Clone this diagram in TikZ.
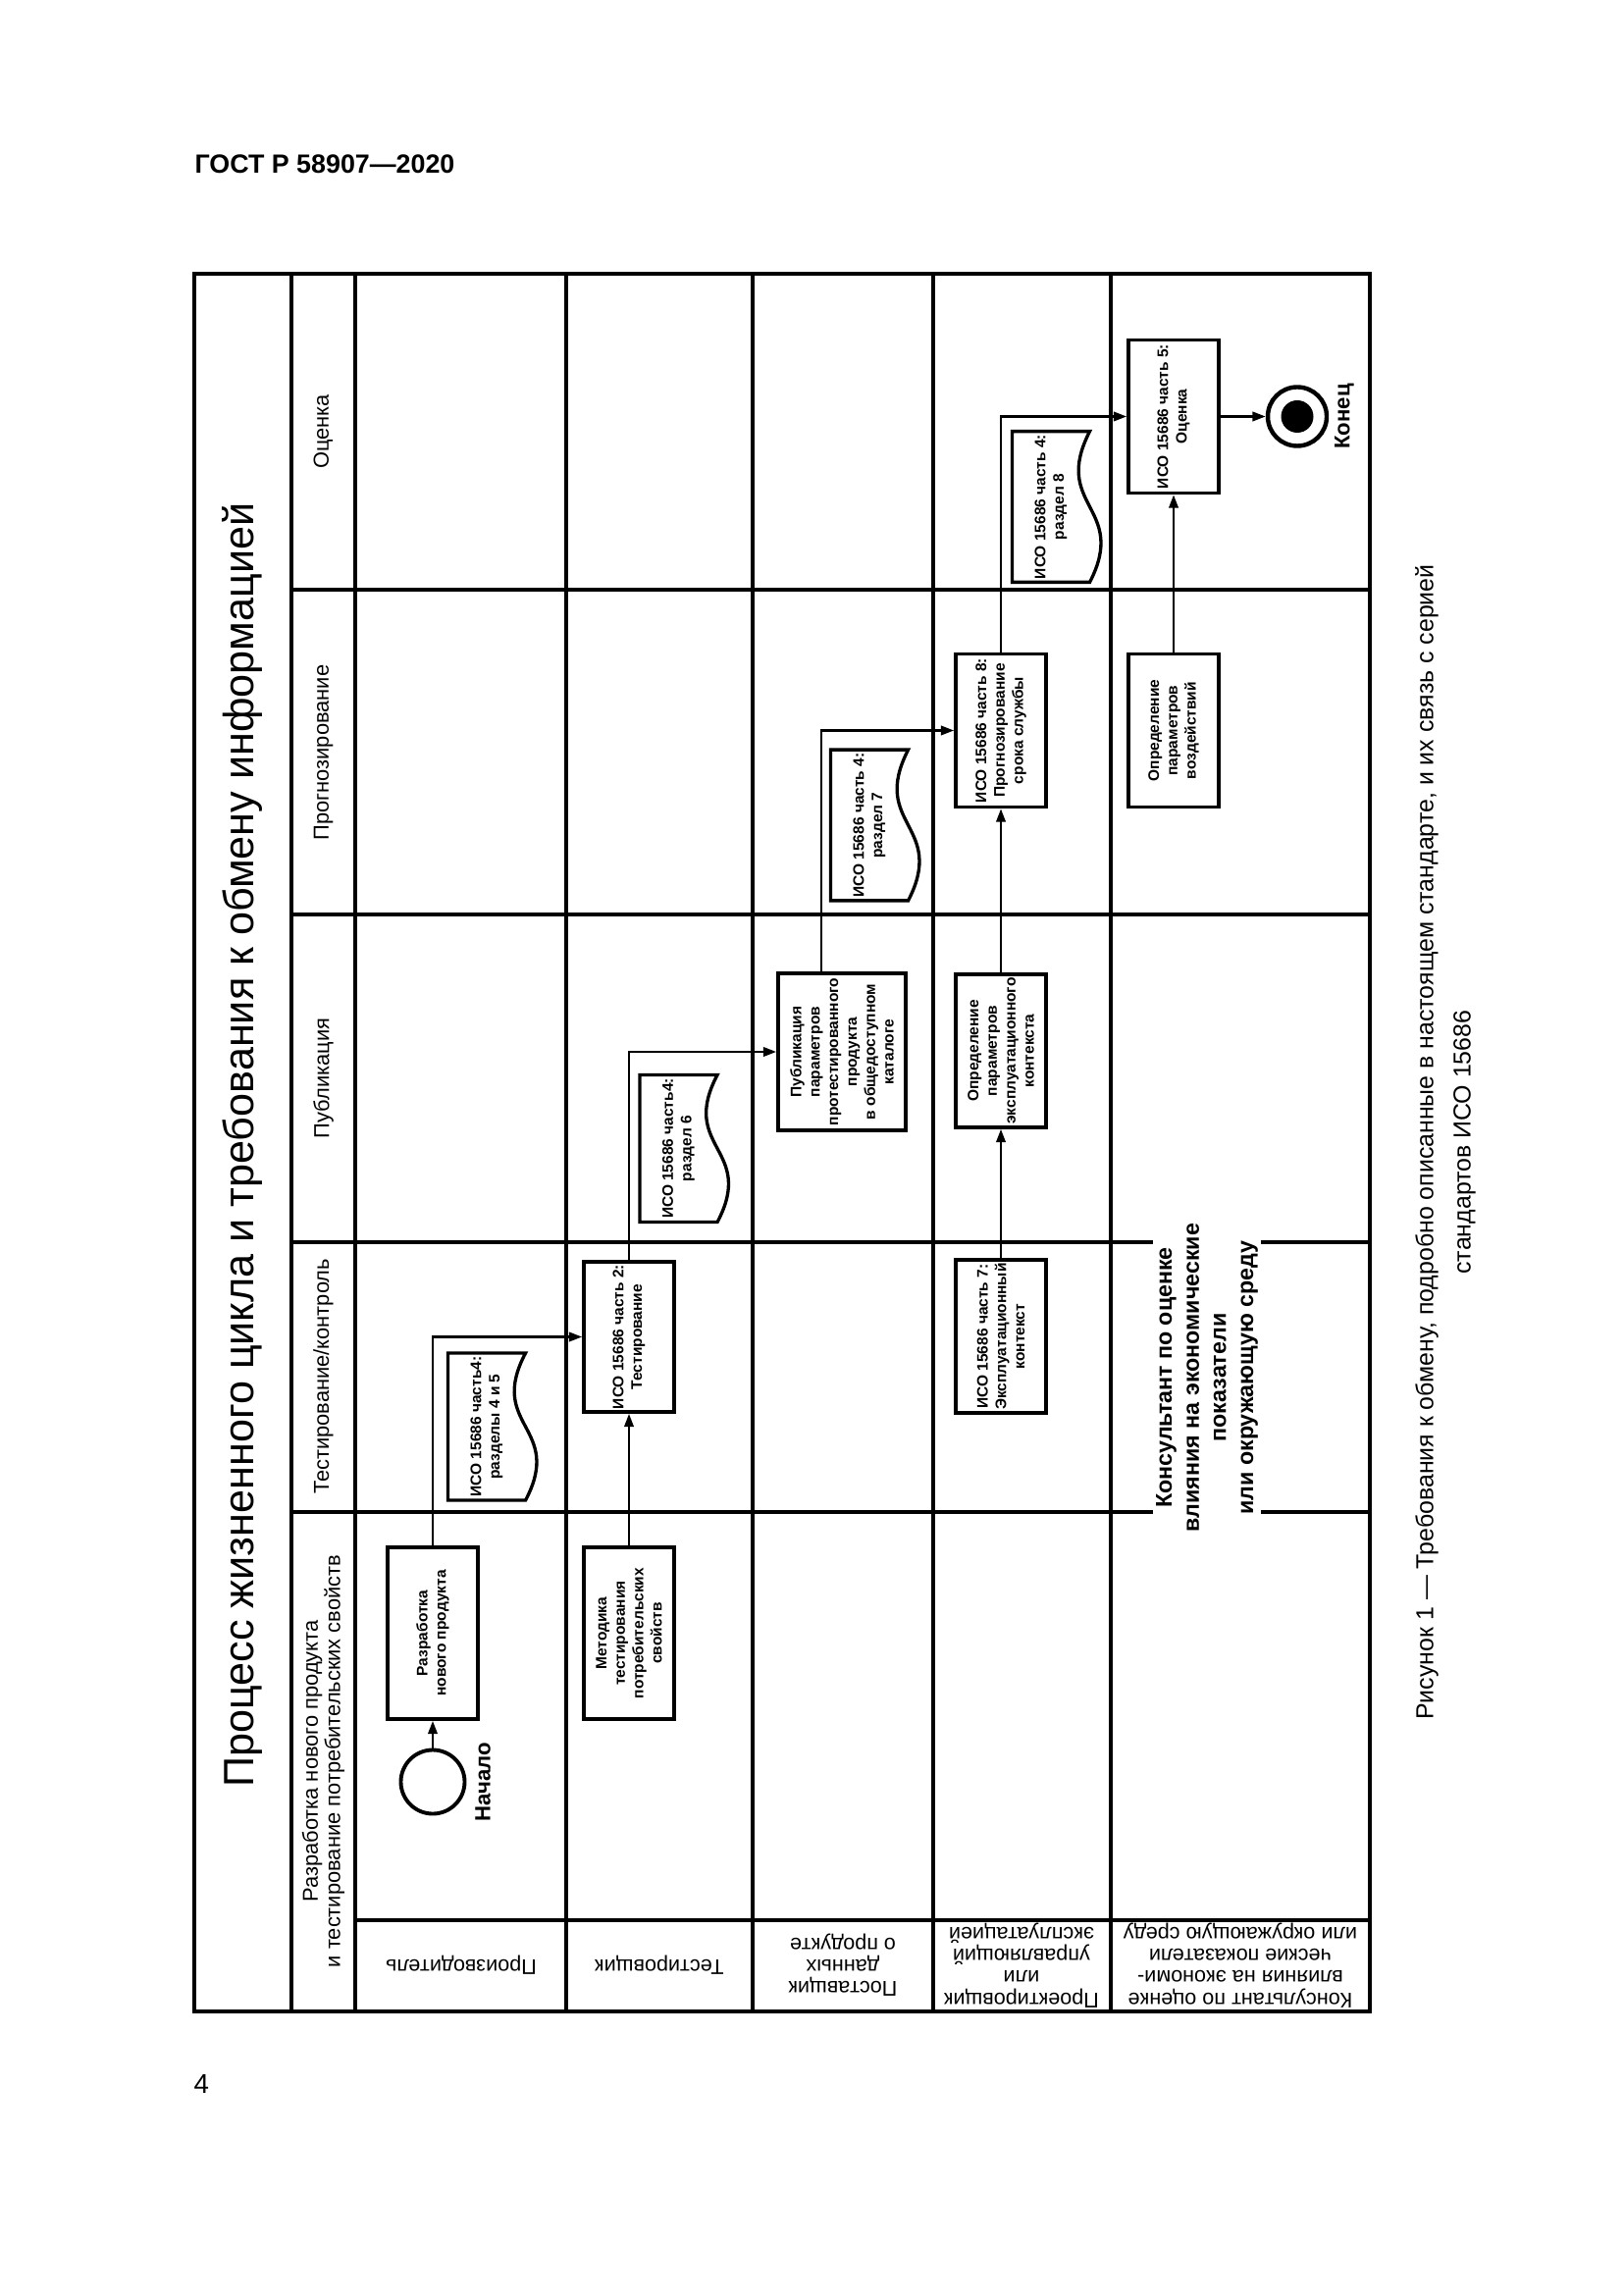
\documentclass[tikz,border=0pt]{standalone}
\usepackage{fontspec}
\setmainfont{Liberation Sans}
\usetikzlibrary{arrows.meta,calc}

\newcommand{\pxu}{0.127mm}
\newcommand{\pn}{\node[procbox]}
\newcommand{\dn}{\node[docbox]}
\newcommand{\docedge}[1]{\draw[docline] (#1.north east) -- (#1.south east)
  .. controls (#1.center) and ($(#1.south)!-0.5!(#1.north)$) .. (#1.south west)
  -- (#1.north west) -- cycle;}

\tikzset{
  frame/.style={line width=1.6pt},
  grid/.style={line width=1.1pt},
  procbox/.style={draw, line width=1.3pt, rotate=90, align=center, inner sep=1pt,
    minimum width=156*\pxu, minimum height=92*\pxu,
    font=\bfseries\fontsize{5.6}{6.8}\selectfont},
  docbox/.style={rotate=90, align=center, inner sep=1pt,
    minimum width=149*\pxu, minimum height=78*\pxu,
    font=\bfseries\fontsize{5.6}{6.8}\selectfont},
  docline/.style={line width=1.2pt},
  flow/.style={line width=0.9pt, -{Triangle[length=1.7mm,width=1.2mm]}},
  phase/.style={rotate=90, align=center, font=\fontsize{7.9}{8.3}\selectfont},
  lane/.style={rotate=180, align=center, font=\fontsize{7.8}{8}\selectfont},
  evlabel/.style={rotate=90, font=\bfseries\fontsize{8}{9}\selectfont},
}

\begin{document}
\begin{tikzpicture}[x=\pxu, y=-\pxu]
\useasboundingbox (0,0) rectangle (1654,2339);

% page
\node[anchor=base west, inner sep=0pt, font=\bfseries\fontsize{9.7}{11}\selectfont] (hdr) at (198,177) {ГОСТ Р 58907—2020};
\node[anchor=base west, inner sep=0pt, font=\fontsize{10}{12}\selectfont] (pgno) at (197,2133) {4};
\node[rotate=90, align=center, font=\fontsize{9}{13.7}\selectfont] (cap) at (1473,1164)
  {Рисунок 1 — Требования к обмену, подробно описанные в настоящем стандарте, и их связь с серией\\стандартов ИСО 15686};

% grid
\draw[frame] (198,279) rectangle (1396,2050);
\draw[frame] (297,279) -- (297,2050);
\draw[line width=1.8pt] (362,279) -- (362,2050);
\foreach \lx in {577,767,951,1132}
  \draw[grid] (\lx,279) -- (\lx,2050);
\foreach \ly in {601,932,1266,1541}
  \draw[grid] (297,\ly) -- (1396,\ly);
\draw[frame] (362,1957) -- (1396,1957);

\node[rotate=90, font=\fontsize{15.6}{18}\selectfont] (ttl) at (247,1167)
  {Процесс жизненного цикла и требования к обмену информацией};

% phases
\node[phase] (phE) at (329.5,440) {Оценка};
\node[phase] (phF) at (329.5,767) {Прогнозирование};
\node[phase] (phP) at (329.5,1099) {Публикация};
\node[phase] (phT) at (329.5,1403) {Тестирование/контроль};
\node[phase] (phD) at (329.5,1795) {Разработка нового продукта\\и тестирование потребительских свойств};

% lanes
\node[lane] (lnA) at (470,2003) {Производитель};
\node[lane] (lnB) at (672,2003) {Тестировщик};
\node[lane] (lnC) at (859,2003) {Поставщик\\данных\\о продукте};
\node[lane] (lnD) at (1041,2003) {Проектировщик\\или\\управляющий\\эксплуатацией};
\node[lane] (lnE) at (1264,2003) {Консультант по оценке\\влияния на экономи-\\ческие показатели\\или окружающую среду};

\node[rotate=90, align=center, fill=white, inner sep=1pt, font=\bfseries\fontsize{8.4}{10}\selectfont] (cons) at (1230,1404)
  {Консультант по оценке\\влияния на экономические\\показатели\\или окружающую среду};

% events
\node[circle, draw, line width=1.4pt, minimum size=65*\pxu, inner sep=0pt] (start) at (441,1816) {};
\node[evlabel] (startlbl) at (492,1816) {Начало};
\node[circle, draw, line width=1.6pt, minimum size=60*\pxu, inner sep=0pt] (end) at (1322,424.5) {};
\node[circle, fill, minimum size=33*\pxu, inner sep=0pt] (endin) at (end) {};
\node[evlabel] (endlbl) at (1370,424.5) {Конец};

% boxes
\pn[minimum width=175*\pxu] (dev) at (441,1664.5) {Разработка\\нового продукта};
\pn[minimum width=175*\pxu] (meth) at (641,1664.5) {Методика\\тестирования\\потребительских\\свойств};
\pn[minimum width=153*\pxu] (test) at (641,1362.5) {ИСО 15686 часть 2:\\Тестирование};
\pn[minimum width=160*\pxu, minimum height=130*\pxu] (pub) at (858,1072)
  {Публикация\\параметров\\протестированного\\продукта\\в общедоступном\\каталоге};
\pn (prog) at (1020,744.5) {ИСО 15686 часть 8:\\Прогнозирование\\срока службы};
\pn (ctx) at (1020,1071) {Определение\\параметров\\эксплуатационного\\контекста};
\pn (ctxdef) at (1020,1362) {ИСО 15686 часть 7:\\Эксплуатационный\\контекст};
\pn (eval) at (1196,424.5) {ИСО 15686 часть 5:\\Оценка};
\pn (impact) at (1196,744.5) {Определение\\параметров\\воздействий};

% documents
\dn (docA) at (496,1454) {ИСО 15686 часть4:\\разделы 4 и 5};
\dn (docB) at (691.5,1170.5) {ИСО 15686 часть4:\\раздел 6};
\dn (docC) at (886,841) {ИСО 15686 часть 4:\\раздел 7};
\dn (docD) at (1071,516.5) {ИСО 15686 часть 4:\\раздел 8};
\docedge{docA}
\docedge{docB}
\docedge{docC}
\docedge{docD}

% flow
\draw[flow] (start.north) -- (dev.west);
\draw[flow] (dev.east) |- (test.north);
\draw[flow] (meth.east) -- (test.west);
\draw[flow] (test.east) |- (pub.north);
\draw[flow] ($(pub.east)+(-21,0)$) |- (prog.north);
\draw[flow] (ctx.east) -- (prog.west);
\draw[flow] (ctxdef.east) -- (ctx.west);
\draw[flow] (prog.east) |- (eval.north);
\draw[flow] (impact.east) -- (eval.west);
\draw[flow] (eval.south) -- (end.west);
\end{tikzpicture}
\end{document}
